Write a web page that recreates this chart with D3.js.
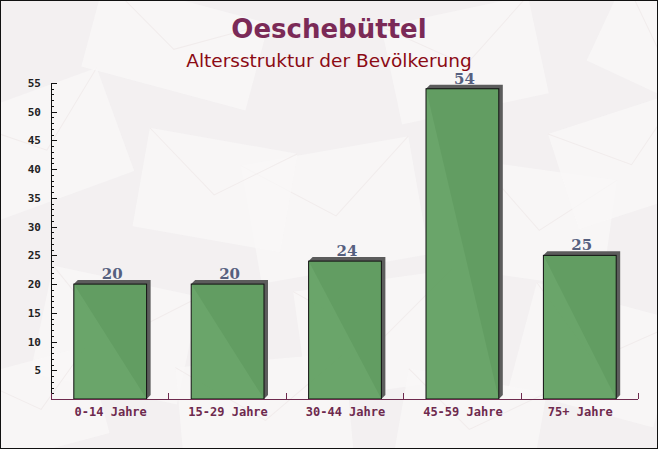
<!DOCTYPE html>
<html><head><meta charset="utf-8">
<script src="https://cdnjs.cloudflare.com/ajax/libs/d3/7.8.5/d3.min.js"></script>
<style>body{margin:0;background:#fff}svg{display:block}</style>
</head><body><svg id="c" width="658" height="449"></svg>
<script>
const categories = ["0-14 Jahre","15-29 Jahre","30-44 Jahre","45-59 Jahre","75+ Jahre"];
const values = [20,20,24,54,25];
const yTicks = [5,10,15,20,25,30,35,40,45,50,55];
const title = "Oeschebüttel";
const subtitle = "Altersstruktur der Bevölkerung";

const W = 658, H = 449;
const svg = d3.select("#c");
svg.append("rect").attr("x",0).attr("y",0).attr("width",W).attr("height",H).attr("fill","#f3f0f1");

// faint envelope background
const env = [
  [-30,90,150,110,-20],[90,0,170,90,15],[250,150,170,120,-10],[140,140,150,100,10],
  [390,10,150,100,-12],[470,170,140,110,8],[560,110,140,100,-18],[40,280,150,110,12],
  [300,280,160,110,-8],[520,300,150,110,15],[180,360,170,110,-5],[600,0,120,90,25],
  [-20,360,120,90,-15],[400,380,140,90,10]
];
const bg = svg.append("g");
env.forEach(e=>{
  const g = bg.append("g").attr("transform",`translate(${e[0]+e[2]/2},${e[1]+e[3]/2}) rotate(${e[4]})`);
  g.append("rect").attr("x",-e[2]/2).attr("y",-e[3]/2).attr("width",e[2]).attr("height",e[3]).attr("fill","#faf8f8").attr("opacity",0.7);
  g.append("path").attr("d",`M${-e[2]/2},${-e[3]/2} L0,${e[3]*0.05} L${e[2]/2},${-e[3]/2}`).attr("fill","none").attr("stroke","#f1ecec").attr("stroke-width",1);
});

const x = d3.scaleBand().domain(categories).range([51,638]).paddingInner(0.38).paddingOuter(0.19);
const y = d3.scaleLinear().domain([0,55]).range([399,83]);

// title
svg.append("text").attr("x",329).attr("y",38).attr("text-anchor","middle")
  .attr("font-family","DejaVu Sans").attr("font-weight","bold").attr("font-size",26)
  .attr("fill","#7b2a57").text(title);
svg.append("text").attr("x",329).attr("y",67).attr("text-anchor","middle")
  .attr("font-family","DejaVu Sans").attr("font-size",18.5)
  .attr("fill","#8b0a14").text(subtitle);

// bars
const bars = svg.append("g");
categories.forEach((c,i)=>{
  const bx = x(c)+0.5, bw = x.bandwidth(), by = y(values[i]), b0 = y(0);
  bars.append("path").attr("d",`M${bx},${by} L${bx+4},${by-4} L${bx+bw+4},${by-4} L${bx+bw+4},${b0-4} L${bx+bw},${b0} Z`)
    .attr("fill","#5c5c5c");
  bars.append("rect").attr("x",bx).attr("y",by).attr("width",bw).attr("height",b0-by)
    .attr("fill","#62a062").attr("fill-opacity",0.95).attr("stroke","#111").attr("stroke-width",1);
  bars.append("text").attr("x",bx+bw/2+2).attr("y",by-5).attr("text-anchor","middle")
    .attr("font-family","DejaVu Serif").attr("font-weight","bold").attr("font-size",15)
    .attr("fill","#56607f").text(values[i]);
});

// y axis
const ya = svg.append("g").attr("transform","translate(51,0)");
ya.append("line").attr("x1",0.5).attr("x2",0.5).attr("y1",y(55)).attr("y2",y(0)).attr("stroke","#111");
d3.range(1,56).forEach(v=>{
  ya.append("line").attr("x1",0).attr("x2",v%5===0?6:3).attr("y1",Math.round(y(v))+0.5).attr("y2",Math.round(y(v))+0.5).attr("stroke","#111");
});
ya.selectAll("text.t").data(yTicks).enter().append("text")
  .attr("x",-10).attr("y",d=>y(d)+4).attr("text-anchor","end")
  .attr("font-family","DejaVu Sans Mono").attr("font-weight","bold").attr("font-size",11)
  .attr("fill","#222").text(d=>d);

// x axis
const xa = svg.append("g");
xa.append("line").attr("x1",51).attr("x2",638).attr("y1",399.5).attr("y2",399.5).attr("stroke","#6e2a4e");
d3.range(0,categories.length+1).forEach(i=>{
  const xx = Math.round(51 + i*x.step()) + 0.5;
  xa.append("line").attr("x1",xx).attr("x2",xx).attr("y1",399).attr("y2",393).attr("stroke","#6e2a4e");
});
xa.selectAll("text").data(categories).enter().append("text")
  .attr("x",d=>x(d)+x.bandwidth()/2+1).attr("y",416).attr("text-anchor","middle")
  .attr("font-family","DejaVu Sans Mono").attr("font-size",12).attr("font-weight","bold")
  .attr("fill","#6e2a4e").text(d=>d);

// border
svg.append("rect").attr("x",0.5).attr("y",0.5).attr("width",W-1).attr("height",H-1).attr("fill","none").attr("stroke","#111");
</script></body></html>
